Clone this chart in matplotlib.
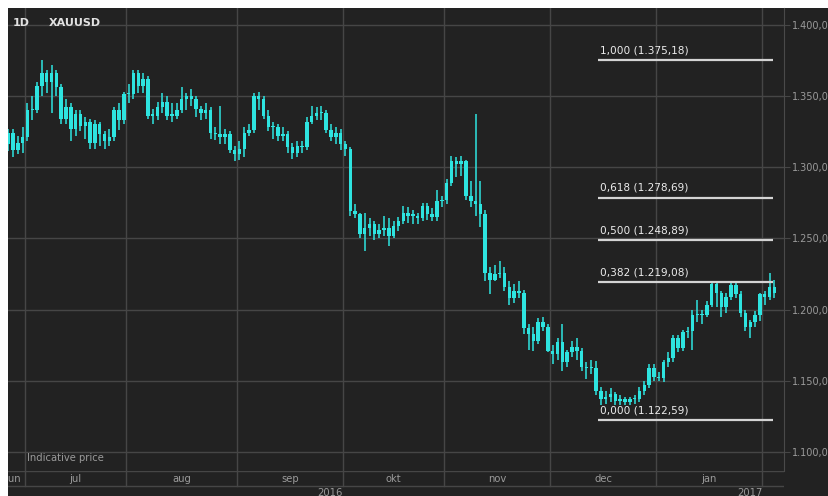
"""
XAUUSD daily candles, Jun 2016 - Feb 2017, with Fibonacci retracement levels.
"""
import numpy as np
import matplotlib
matplotlib.use('Agg')
import matplotlib.pyplot as plt
from matplotlib.patches import Rectangle

# ============================================================
# Data, one row per trading day
# ============================================================
opens = [1316, 1324, 1312, 1317, 1321, 1340, 1340, 1357, 1366, 1360,
         1366, 1356, 1334, 1342, 1327, 1337, 1329, 1332, 1317, 1330,
         1323, 1318, 1321, 1340, 1333, 1351, 1351, 1366, 1357, 1362,
         1336, 1336, 1342, 1346, 1336, 1336, 1340, 1348, 1350, 1348,
         1341, 1338, 1340, 1324, 1323, 1321, 1323, 1312, 1309, 1313,
         1324, 1326, 1350, 1348, 1336, 1328, 1328, 1322, 1323, 1314,
         1310, 1315, 1314, 1332, 1336, 1338, 1338, 1326, 1321, 1324,
         1316, 1313, 1269, 1267, 1253, 1257, 1260, 1253, 1256, 1257,
         1252, 1259, 1262, 1268, 1266, 1266, 1264, 1273, 1267, 1265,
         1276, 1277, 1289, 1304, 1302, 1304, 1280, 1276, 1274, 1267,
         1226, 1221, 1225, 1226, 1216, 1208, 1213, 1212, 1187, 1183,
         1178, 1191, 1188, 1171, 1169, 1177, 1163, 1170, 1174, 1171,
         1160, 1159, 1159, 1143, 1137, 1139, 1141, 1136, 1137, 1135,
         1137, 1137, 1143, 1147, 1159, 1153, 1152, 1163, 1166, 1180,
         1173, 1184, 1185, 1196, 1197, 1196, 1203, 1218, 1212, 1202,
         1209, 1217, 1211, 1198, 1188, 1191, 1196, 1211, 1209, 1216]
highs = [1327, 1327, 1322, 1328, 1345, 1350, 1360, 1375, 1368, 1372,
         1368, 1358, 1348, 1345, 1340, 1340, 1335, 1334, 1333, 1332,
         1325, 1327, 1342, 1345, 1353, 1358, 1368, 1368, 1366, 1364,
         1341, 1346, 1352, 1350, 1345, 1345, 1356, 1352, 1355, 1350,
         1343, 1345, 1342, 1328, 1343, 1327, 1325, 1315, 1318, 1328,
         1330, 1352, 1353, 1350, 1340, 1332, 1330, 1328, 1325, 1317,
         1318, 1318, 1335, 1343, 1342, 1343, 1340, 1330, 1328, 1327,
         1318, 1314, 1274, 1268, 1268, 1264, 1262, 1260, 1266, 1264,
         1262, 1265, 1273, 1272, 1270, 1268, 1275, 1275, 1271, 1284,
         1280, 1292, 1308, 1307, 1308, 1305, 1290, 1337, 1290, 1270,
         1230, 1231, 1234, 1230, 1220, 1218, 1220, 1214, 1190, 1188,
         1194, 1195, 1190, 1175, 1180, 1190, 1172, 1178, 1180, 1173,
         1163, 1165, 1164, 1146, 1143, 1145, 1142, 1140, 1139, 1139,
         1140, 1146, 1150, 1162, 1162, 1156, 1165, 1170, 1182, 1182,
         1186, 1188, 1200, 1207, 1200, 1206, 1219, 1219, 1213, 1212,
         1219, 1219, 1213, 1200, 1193, 1199, 1212, 1213, 1226, 1221]
lows = [1311, 1307, 1309, 1310, 1318, 1333, 1338, 1350, 1352, 1338,
        1350, 1330, 1330, 1318, 1322, 1325, 1320, 1313, 1313, 1315,
        1313, 1315, 1318, 1326, 1330, 1345, 1348, 1352, 1352, 1334,
        1330, 1333, 1338, 1333, 1332, 1334, 1338, 1340, 1343, 1335,
        1333, 1334, 1320, 1319, 1316, 1316, 1310, 1304, 1305, 1307,
        1322, 1324, 1340, 1334, 1325, 1320, 1318, 1318, 1310, 1306,
        1307, 1310, 1312, 1330, 1333, 1333, 1324, 1318, 1316, 1312,
        1308, 1266, 1264, 1250, 1241, 1252, 1249, 1250, 1252, 1245,
        1250, 1255, 1260, 1261, 1260, 1260, 1262, 1263, 1262, 1262,
        1272, 1274, 1287, 1293, 1294, 1277, 1272, 1266, 1258, 1220,
        1211, 1220, 1222, 1213, 1203, 1205, 1208, 1183, 1172, 1171,
        1176, 1185, 1170, 1162, 1165, 1157, 1160, 1167, 1165, 1157,
        1151, 1155, 1140, 1133, 1134, 1135, 1133, 1133, 1133, 1133,
        1134, 1135, 1140, 1145, 1150, 1150, 1149, 1160, 1163, 1170,
        1171, 1180, 1172, 1191, 1190, 1195, 1202, 1202, 1195, 1198,
        1207, 1208, 1195, 1185, 1180, 1188, 1192, 1203, 1207, 1208]
closes = [1324, 1312, 1317, 1321, 1340, 1340, 1357, 1366, 1360, 1366,
          1356, 1334, 1342, 1327, 1337, 1329, 1332, 1317, 1330, 1323,
          1318, 1321, 1340, 1333, 1351, 1351, 1366, 1357, 1362, 1336,
          1336, 1342, 1346, 1336, 1336, 1340, 1348, 1350, 1348, 1341,
          1338, 1340, 1324, 1323, 1321, 1323, 1312, 1309, 1313, 1324,
          1326, 1350, 1348, 1336, 1328, 1328, 1322, 1323, 1314, 1310,
          1315, 1314, 1332, 1336, 1338, 1338, 1326, 1321, 1324, 1316,
          1313, 1269, 1267, 1253, 1257, 1260, 1253, 1256, 1257, 1252,
          1259, 1262, 1268, 1266, 1266, 1264, 1273, 1267, 1265, 1276,
          1277, 1289, 1304, 1302, 1304, 1280, 1276, 1274, 1267, 1226,
          1221, 1225, 1226, 1216, 1208, 1213, 1212, 1187, 1183, 1178,
          1191, 1188, 1171, 1169, 1177, 1163, 1170, 1174, 1171, 1160,
          1159, 1159, 1143, 1137, 1139, 1141, 1136, 1137, 1135, 1137,
          1137, 1143, 1147, 1159, 1153, 1152, 1163, 1166, 1180, 1173,
          1184, 1185, 1196, 1197, 1196, 1203, 1218, 1212, 1202, 1209,
          1217, 1211, 1198, 1188, 1191, 1196, 1211, 1209, 1216, 1212]

months = ['jun', 'jul', 'aug', 'sep', 'okt', 'nov', 'dec', 'jan']
month_start = [0, 4, 25, 48, 70, 91, 113, 135, 157]   # first trading-day index
years = ['2016', '2017']
year_pos = [66.8, 153.9]

fib_ratio = ['1,000', '0,618', '0,500', '0,382', '0,000']
fib_price = [1375.18, 1278.69, 1248.89, 1219.08, 1122.59]
fib_label = ['1.375,18', '1.278,69', '1.248,89', '1.219,08', '1.122,59']

yticks = [1100, 1150, 1200, 1250, 1300, 1350, 1400]

# ============================================================
# Figure
# ============================================================
W, H = 829, 496
BG = '#222222'
GRID = '#464646'
TXT = '#9a9a9a'
CYAN = '#2ee4e0'

fig = plt.figure(figsize=(W/100, H/100), dpi=100, facecolor='white')
fig.patches.append(Rectangle((8/W, 0), 1 - 8/W, (H-8)/H, transform=fig.transFigure,
                             facecolor=BG, edgecolor='none', zorder=-10))

x0, x1 = 8, 784
ax = fig.add_axes([x0/W, (H-471)/H, (x1-x0)/W, (471-8)/H])
ax.set_facecolor(BG)
band = fig.add_axes([x0/W, 0, (x1-x0)/W, 25/H])
band.set_facecolor('none')

xlim = (-0.03, 161.0)
n = len(closes)
xs = np.arange(n)

# grid
bounds = [s - 0.5 for s in month_start[1:]]
for b in bounds:
    ax.axvline(b, color=GRID, lw=1, zorder=1)
for yt in yticks:
    ax.axhline(yt, color=GRID, lw=1, zorder=1)

# candles
o = np.array(opens, float); c = np.array(closes, float)
hi = np.array(highs, float); lo = np.array(lows, float)
ax.vlines(xs, lo, hi, color=CYAN, lw=1.1, zorder=3)
bot = np.minimum(o, c)
hgt = np.maximum(np.abs(c - o), 1.0)
ax.bar(xs, hgt, bottom=bot, width=0.72, color=CYAN, edgecolor='none', zorder=4)

# fibonacci levels
fx0, fx1 = 122.4, 158.7
for r, p, lab in zip(fib_ratio, fib_price, fib_label):
    ax.hlines(p, fx0, fx1, color='#d4d4d4', lw=1.6, zorder=5)
    ax.text(fx0 + 0.4, p + 3.2, f'{r} ({lab})', color='#ececec', fontsize=7.6,
            ha='left', va='bottom', zorder=6)

ax.set_xlim(*xlim)
ax.set_ylim(1086.8, 1411.65)
ax.set_xticks([])
ax.yaxis.tick_right()
ax.set_yticks(yticks)
ax.set_yticklabels([f'{v // 1000}.{v % 1000:03d},0' for v in yticks])
ax.tick_params(axis='y', colors=GRID, labelcolor=TXT, labelsize=7, length=4, pad=2)
for s in ['top', 'left', 'bottom']:
    ax.spines[s].set_visible(False)
ax.spines['right'].set_color('#4a4a4a')

ax.text(0.006, 0.968, '1D', transform=ax.transAxes, color='#e2e2e2', fontsize=8,
        fontweight='bold', va='center')
ax.text(0.052, 0.968, 'XAUUSD', transform=ax.transAxes, color='#e2e2e2', fontsize=8,
        fontweight='bold', va='center')
ax.text(0.0245, 0.017, 'Indicative price', transform=ax.transAxes, color=TXT,
        fontsize=7.2, va='bottom')

# date band
band.set_xlim(*xlim)
band.set_ylim(0, 25)
band.axis('off')
band.axhline(25, color=GRID, lw=1)
band.axhline(10, color=GRID, lw=1)
for b in bounds:
    band.axvline(b, ymin=0.4, ymax=1, color=GRID, lw=1)
for i, m in enumerate(months):
    if i == 0:
        mid = 0.9
    else:
        mid = (month_start[i] + month_start[i+1] - 1) / 2
    band.text(mid, 17.5, m, color=TXT, fontsize=7.2, ha='center', va='center', clip_on=True)
for yr, xp in zip(years, year_pos):
    band.text(xp, 3.5, yr, color=TXT, fontsize=7.2, ha='center', va='center', clip_on=True)

fig.savefig('out.png', dpi=100, facecolor='white')
print('Saved out.png')
